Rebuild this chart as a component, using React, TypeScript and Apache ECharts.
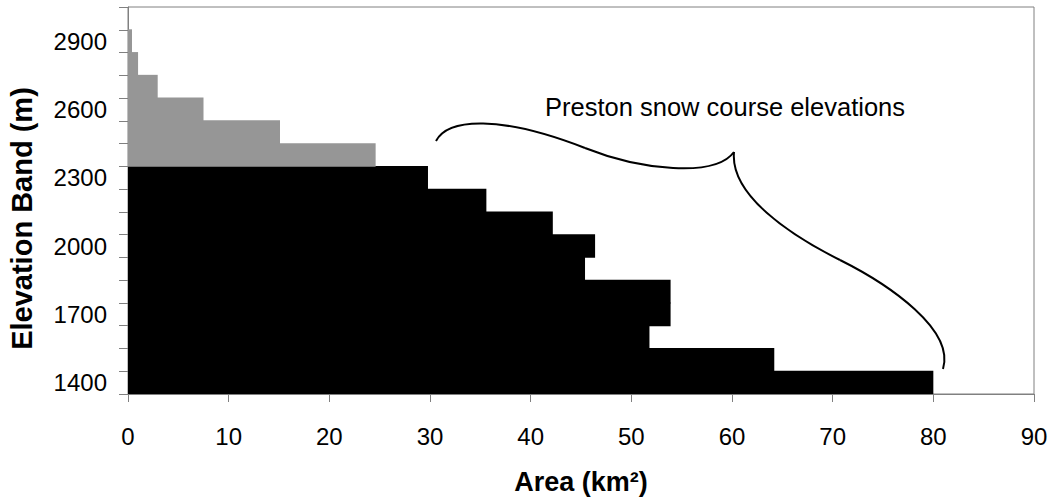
import React, { useEffect, useRef } from "react";
import * as echarts from "echarts";

// 100 m elevation bands, bottom to top
const bands = ["1400", "1500", "1600", "1700", "1800", "1900", "2000", "2100", "2200", "2300", "2400", "2500", "2600", "2700", "2800", "2900", "3000"];
// Band area (km²) below the snow-course range
const lowerArea = [80, 64.2, 51.8, 53.9, 53.9, 45.4, 46.4, 42.2, 35.6, 29.8, null, null, null, null, null, null, null];
// Band area (km²) above it
const upperArea = [null, null, null, null, null, null, null, null, null, null, 24.6, 15.1, 7.5, 2.95, 1.0, 0.4, null];

const xTicks = { min: 0, max: 90, interval: 10 };

const FONT = "'Liberation Sans', Arial, sans-serif";

export default function App() {
  const ref = useRef<HTMLDivElement>(null);

  useEffect(() => {
    document.body.style.margin = "0";
    const chart = echarts.init(ref.current!, null, { renderer: "svg" });
    const axisGray = "#808080";
    const braceStyle = { stroke: "#000", lineWidth: 2, fill: null };
    chart.setOption({
      animation: false,
      backgroundColor: "#ffffff",
      textStyle: { fontFamily: FONT },
      grid: {
        left: 128,
        right: 20,
        top: 7,
        bottom: 105,
        outerBoundsMode: "none",
        containLabel: false,
        show: true,
        borderColor: axisGray,
        borderWidth: 1,
        backgroundColor: "#ffffff",
      },
      xAxis: {
        type: "value",
        min: xTicks.min,
        max: xTicks.max,
        interval: xTicks.interval,
        name: "Area (km²)",
        nameLocation: "middle",
        nameGap: 74,
        nameTextStyle: { fontSize: 27, fontWeight: "bold", color: "#000", fontFamily: FONT },
        axisLine: { show: true, lineStyle: { color: axisGray, width: 1 } },
        axisTick: { show: true, length: 8, lineStyle: { color: axisGray } },
        axisLabel: { fontSize: 24, color: "#000", margin: 30, fontFamily: FONT },
        splitLine: { show: false },
      },
      yAxis: {
        type: "category",
        data: bands,
        name: "Elevation Band (m)",
        nameLocation: "middle",
        nameRotate: 90,
        nameGap: 92,
        nameTextStyle: {
          fontSize: 29,
          fontWeight: "bold",
          color: "#000",
          fontFamily: FONT,
          // nudge the title a little below the plot's middle
          padding: [0, 36, 0, 0],
        },
        axisLine: { show: true, lineStyle: { color: axisGray, width: 1 } },
        axisTick: { show: true, length: 9, interval: 0, lineStyle: { color: axisGray } },
        axisLabel: { interval: 2, fontSize: 24, color: "#000", margin: 21, fontFamily: FONT },
        splitLine: { show: false },
      },
      series: [
        {
          name: "lower",
          type: "bar",
          stack: "area",
          data: lowerArea,
          barWidth: "104%",
          itemStyle: { color: "#000000" },
        },
        {
          name: "upper",
          type: "bar",
          stack: "area",
          data: upperArea,
          barWidth: "104%",
          itemStyle: { color: "#969696" },
        },
      ],
      graphic: [
        {
          type: "text",
          x: 725,
          y: 94,
          style: {
            text: "Preston snow course elevations",
            fontSize: 25.5,
            fontFamily: FONT,
            fill: "#000",
            align: "center",
            verticalAlign: "top",
          },
        },
        // curly brace spanning the snow course elevations
        {
          type: "bezierCurve",
          shape: { x1: 436, y1: 141, cpx1: 448, cpy1: 118, cpx2: 500, cpy2: 115, x2: 585, y2: 148 },
          style: braceStyle,
        },
        {
          type: "bezierCurve",
          shape: { x1: 585, y1: 148, cpx1: 640, cpy1: 170, cpx2: 715, cpy2: 178, x2: 734, y2: 152 },
          style: braceStyle,
        },
        {
          type: "bezierCurve",
          shape: { x1: 734, y1: 152, cpx1: 730, cpy1: 195, cpx2: 790, cpy2: 235, x2: 840, y2: 260 },
          style: braceStyle,
        },
        {
          type: "bezierCurve",
          shape: { x1: 840, y1: 260, cpx1: 890, cpy1: 285, cpx2: 955, cpy2: 330, x2: 943, y2: 369 },
          style: braceStyle,
        },
      ],
    });
    return () => chart.dispose();
  }, []);

  return (
    <div
      ref={ref}
      style={{ position: "fixed", left: 0, top: 0, width: 1054, height: 499 }}
    />
  );
}
